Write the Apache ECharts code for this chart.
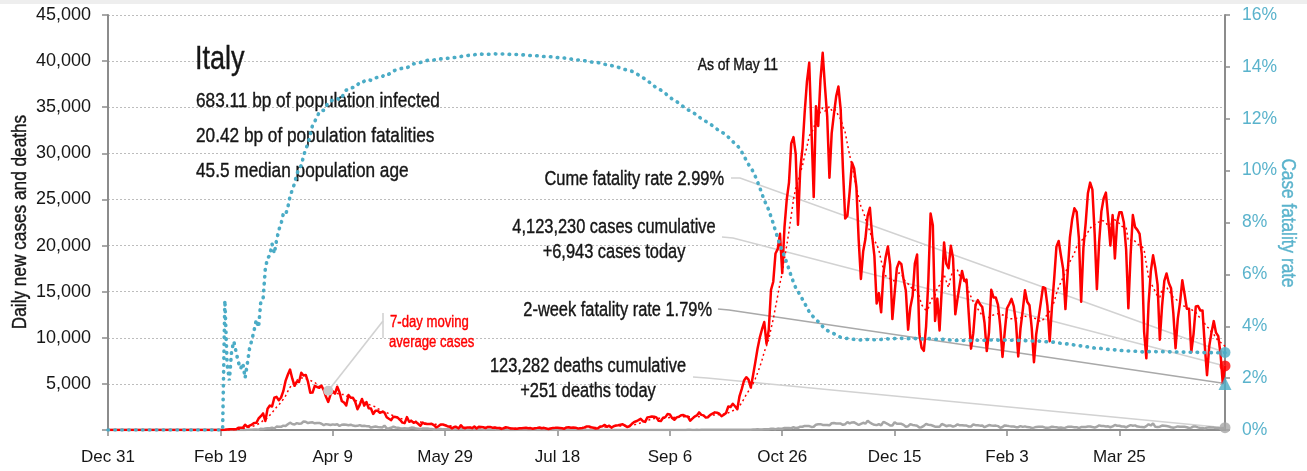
<!DOCTYPE html>
<html>
<head>
<meta charset="utf-8">
<title>Italy — daily new cases, deaths and case fatality rate</title>
<script src="https://cdn.jsdelivr.net/npm/echarts@6/dist/echarts.min.js"></script>
<style>
  html, body { margin: 0; padding: 0; background: #fff; }
  #chart { width: 1307px; height: 471px; }
</style>
</head>
<body>
<div id="chart"></div>
<script>
// ---- Daily new cases, one array per month (first day: Dec 31, 2019) ----
const casesDec2019 = [0];
const casesJan2020 = [0,0,0,0,0,0,0,0,0,0,0,0,0,0,0,0,0,0,0,0,0,0,0,0,0,0,0,0,0,0,2];
const casesFeb2020 = [0,0,0,0,0,1,0,0,0,0,0,0,0,0,0,0,0,0,0,0,17,59,78,72,93,78,250,238,240];
const casesMar2020 = [566,342,466,587,769,778,1247,1492,1797,977,2313,2651,2547,3497,3590,3233,3526,4207,5322,5986,6557,5560,4789,5249,5210,6203,5909,5974,5217,4050,4053];
const casesApr2020 = [4782,4668,4585,4805,4316,3599,3039,3836,4204,3951,4694,4092,3153,2972,2667,3786,3493,3491,3047,2256,2729,3370,2646,3021,2357,2324,1739,2091,2086,1872];
const casesMay2020 = [1965,1900,1389,1221,1075,1444,1401,1327,1083,802,744,1402,888,992,789,875,675,451,813,665,642,652,669,531,300,397,584,593,516,416,355];
const casesJun2020 = [178,318,321,177,518,270,197,280,283,202,379,163,346,338,301,210,329,333,251,262,224,218,122,190,296,259,175,174,126,142];
const casesJul2020 = [187,201,223,235,192,208,138,193,229,276,188,234,169,114,162,230,233,249,219,190,129,282,306,252,275,255,170,181,212,289,386];
const casesAug2020 = [379,295,239,159,190,384,402,552,347,463,259,412,481,523,574,629,479,320,403,642,845,947,1071,1210,953,878,1367,1411,1462,1444,1365];
const casesSep2020 = [996,978,1326,1397,1733,1695,1297,1108,1370,1434,1597,1616,1501,1458,1008,1229,1452,1585,1907,1638,1587,1350,1392,1640,1786,1912,1869,1766,1494,1648];
const casesOct2020 = [1851,2548,2499,2844,2578,2257,3678,4458,5372,5724,5456,4619,5901,7332,8804,10010,10925,11705,9338,10874,15199,16079,19143,19644,21273,17012,21994,24991,26831,31084,31758];
const casesNov2020 = [29907,22253,28244,30550,34505,37809,39811,32616,25271,35098,32961,37978,40902,37255,33979,27354,32191,34283,36176,37242,34767,28337,22930,23232,25853,29003,28352,26323,20648,16377];
const casesDec2020 = [19350,20709,23225,24099,21052,18887,13720,14842,12756,16999,18727,19903,17938,12030,14844,17572,18236,17992,16308,15104,10872,13318,14522,18040,19037,10407,8913,8585,11212,16202,23477];
const casesJan2021 = [22211,11831,14245,10800,15378,20331,18020,17533,19978,18627,12545,14242,15774,17246,16146,16310,12545,8824,10497,13571,14078,13633,13331,11629,8561,10593,15204,14372,14372,13574,11252];
const casesFeb2021 = [7925,10630,13189,13659,14218,13442,11641,7970,10994,12956,15146,13908,13532,11068,7351,10386,12074,13762,15479,15370,13452,9630,13314,16424,19886,20499,18916,17455];
const casesMar2021 = [13114,17083,20884,22865,24036,23641,20765,13902,19749,22409,25673,26824,26062,21315,15267,20396,23704,25100,25735,23000,20000,23300,18600,22500,23600,23600,22500,19600,13200,19000,23300];
const casesApr2021 = [22000,21700,21261,19000,10680,7767,13708,17221,18938,17567,15746,9789,13447,16168,16974,15943,15370,12694,8864,12074,13844,16232,14761,13158,13158,8444,10404,13385,13445,12965];
const casesMay2021 = [12965,9148,5948,9116,10585,11807,10554,10176,8292,5080,6943];

// ---- Daily deaths, one array per month ----
const deathsDec2019 = [0];
const deathsJan2020 = [0,0,0,0,0,0,0,0,0,0,0,0,0,0,0,0,0,0,0,0,0,0,0,0,0,0,0,0,0,0,0];
const deathsFeb2020 = [0,0,0,0,0,0,0,0,0,0,0,0,0,0,0,0,0,0,0,0,1,1,1,4,4,1,5,4,8];
const deathsMar2020 = [5,18,27,28,41,49,36,133,97,168,196,189,250,175,368,349,345,475,427,627,793,651,601,743,683,712,919,889,756,812,837];
const deathsApr2020 = [727,760,766,681,525,636,604,542,610,570,619,431,566,602,578,525,575,482,433,454,534,437,464,420,415,260,333,382,323,285];
const deathsMay2020 = [269,474,174,195,236,369,274,243,194,165,179,172,195,262,242,153,145,99,162,161,156,130,119,50,92,78,117,70,87,111,75];
const deathsJun2020 = [60,55,71,88,85,72,53,65,79,71,53,56,78,44,26,34,43,66,47,49,24,23,18,30,34,30,8,24,6,23];
const deathsJul2020 = [21,15,15,21,7,8,30,15,12,12,7,9,13,17,13,11,13,3,9,13,15,9,10,5,5,3,5,11,11,3,9];
const deathsAug2020 = [12,8,5,10,6,10,8,11,13,4,6,12,6,13,10,4,7,4,5,16,10,9,4,7,4,5,13,9,5,1,6];
const deathsSep2020 = [6,10,6,10,7,7,10,10,10,10,10,13,7,14,14,9,10,24,10,14,17,20,15,20,23,17,17,16,24,24];
const deathsOct2020 = [23,24,27,16,18,28,31,22,28,29,26,39,41,43,83,55,47,69,73,89,127,136,91,151,128,141,221,205,217,199,297];
const deathsNov2020 = [208,233,353,352,445,446,425,331,356,580,623,636,550,544,546,504,731,753,699,699,692,562,630,853,722,822,827,686,541,672];
const deathsDec2020 = [785,684,993,814,662,564,528,634,499,887,761,649,484,491,846,680,683,674,553,352,415,628,553,505,459,261,305,445,659,575,555];
const deathsJan2021 = [462,364,347,348,649,548,414,483,483,361,448,616,507,522,477,475,377,377,603,524,521,472,488,299,420,541,492,467,477,421,237];
const deathsFeb2021 = [329,499,456,421,391,385,307,307,422,336,391,316,311,221,258,336,347,353,347,253,232,274,356,318,308,253,280,227];
const deathsMar2021 = [255,343,347,339,297,307,207,318,332,332,373,380,317,264,354,502,431,423,386,401,300,386,551,460,460,380,380,297,417,529,467];
const deathsApr2021 = [501,376,344,326,296,421,627,487,718,344,331,360,476,469,429,380,293,251,316,390,364,360,342,301,217,256,390,373,288,226];
const deathsMay2021 = [226,144,256,305,263,258,207,224,139,198,251];

// ---- Figures quoted in the annotations ----
const countryName = 'Italy';
const profileLines = ['683.11 bp of population infected', '20.42 bp of population fatalities', '45.5 median population age'];
const asOfLabel = 'As of May 11';
const cumeFatalityRate = 2.99;      // %
const twoWeekFatalityRate = 1.79;   // %
const casesToday = 6943;
const deathsToday = 251;
const casesCumulativeLabel = ['4,123,230 cases cumulative', '+6,943 cases today'];
const deathsCumulativeLabel = ['123,282 deaths cumulative', '+251 deaths today'];
const cumeRateLabel = 'Cume fatality rate 2.99%';
const twoWeekRateLabel = '2-week fatality rate 1.79%';
const movingAverageLabel = ['7-day moving', 'average cases'];
const movingAverageCallout = 98;    // day index the moving-average callout points at
const leftAxisTitle = 'Daily new cases and deaths';
const rightAxisTitle = 'Case fatality rate';

// ---- Axis ticks ----
const xTickStep = 50;               // days between date labels
const leftTicks = { min: 0, max: 45000, interval: 5000 };
const rightTicks = { min: 0, max: 16, interval: 2 };
const MONTHS = ['Jan','Feb','Mar','Apr','May','Jun','Jul','Aug','Sep','Oct','Nov','Dec'];

// ---- Derived series ----
const dailyCases = [].concat(casesDec2019, casesJan2020, casesFeb2020, casesMar2020, casesApr2020, casesMay2020,
  casesJun2020, casesJul2020, casesAug2020, casesSep2020, casesOct2020, casesNov2020, casesDec2020,
  casesJan2021, casesFeb2021, casesMar2021, casesApr2021, casesMay2021);
const dailyDeaths = [].concat(deathsDec2019, deathsJan2020, deathsFeb2020, deathsMar2020, deathsApr2020, deathsMay2020,
  deathsJun2020, deathsJul2020, deathsAug2020, deathsSep2020, deathsOct2020, deathsNov2020, deathsDec2020,
  deathsJan2021, deathsFeb2021, deathsMar2021, deathsApr2021, deathsMay2021);
const lastDay = dailyCases.length - 1;

function dayLabel(i) {
  const d = new Date(2019, 11, 31 + i);
  return MONTHS[d.getMonth()] + ' ' + d.getDate();
}

// trailing 7-day average of new cases
const movingAvg = dailyCases.map((_, i) => {
  const from = Math.max(0, i - 6);
  let s = 0;
  for (let k = from; k <= i; k++) s += dailyCases[k];
  return s / (i - from + 1);
});

// cumulative case fatality rate, %
let cumC = 0, cumD = 0;
const cfr = dailyCases.map((c, i) => {
  cumC += c; cumD += dailyDeaths[i];
  return cumC > 0 ? cumD / cumC * 100 : 0;
});

const pairs = arr => arr.map((v, i) => [i, v]);

// ---- Styling ----
const SANS = '"Liberation Sans", Arial, sans-serif';
const NARROW = 0.82;                // horizontal squeeze giving a condensed face
const RED = '#ff0000';
const BLUE = '#4bacc6';
const BLUE_TEXT = '#5ab3cc';
const DEATH_GRAY = '#a6a6a6';
const AXIS_GRAY = '#8c8c8c';
const LEADER_LIGHT = '#d2d2d2';
const LEADER_DARK = '#a9a9a9';
const INK = '#161616';

const chart = echarts.init(document.getElementById('chart'), null, { renderer: 'canvas' });

chart.setOption({
  animation: false,
  backgroundColor: '#fff',
  textStyle: { fontFamily: SANS },
  grid: { left: 108, right: 82, top: 15, bottom: 41, containLabel: false, outerBoundsMode: 'none' },
  xAxis: {
    type: 'value', min: 0, max: lastDay, interval: xTickStep,
    axisLine: { show: true, lineStyle: { color: AXIS_GRAY, width: 2 } },
    axisTick: { show: true, length: 6, lineStyle: { color: AXIS_GRAY, width: 1.5 } },
    axisLabel: {
      color: INK, fontSize: 17, fontFamily: SANS, margin: 19, showMaxLabel: false,
      formatter: v => (v % xTickStep === 0 ? dayLabel(v) : '')
    },
    splitLine: { show: false }
  },
  yAxis: [
    {
      type: 'value', position: 'left', ...leftTicks,
      axisLine: { show: true, lineStyle: { color: AXIS_GRAY, width: 2 } },
      axisTick: { show: true, length: 6, lineStyle: { color: AXIS_GRAY, width: 1.5 } },
      axisLabel: {
        color: INK, fontSize: 18, fontFamily: SANS, margin: 17,
        formatter: v => (v === 0 ? '' : v.toLocaleString('en-US'))
      },
      splitLine: { show: true, lineStyle: { color: '#bdbdbd', width: 1, type: [2, 2] } }
    },
    {
      type: 'value', position: 'right', ...rightTicks,
      axisLine: { show: true, lineStyle: { color: AXIS_GRAY, width: 2 } },
      axisTick: { show: true, length: 5, lineStyle: { color: AXIS_GRAY, width: 1.5 } },
      axisLabel: { color: BLUE_TEXT, fontSize: 17.5, fontFamily: SANS, margin: 17, formatter: '{value}%' },
      splitLine: { show: false }
    }
  ],
  series: [
    {
      name: 'Daily deaths', type: 'line', data: pairs(dailyDeaths), yAxisIndex: 0,
      showSymbol: false, z: 2, silent: true,
      lineStyle: { color: DEATH_GRAY, width: 2.5 }
    },
    {
      name: 'Daily new cases', type: 'line', data: pairs(dailyCases), yAxisIndex: 0,
      showSymbol: false, z: 3, silent: true,
      lineStyle: { color: RED, width: 2.5, join: 'round' }
    },
    {
      name: '7-day moving average cases', type: 'line', data: pairs(movingAvg), yAxisIndex: 0,
      showSymbol: false, z: 4, silent: true,
      lineStyle: { color: RED, width: 1.5, type: [2, 3] }
    },
    {
      name: 'Case fatality rate', type: 'line', data: pairs(cfr), yAxisIndex: 1,
      showSymbol: false, z: 5, silent: true,
      lineStyle: { color: BLUE, width: 3.6, type: [0.5, 6.4], cap: 'round' }
    },
    {
      name: 'Latest (left axis)', type: 'scatter', yAxisIndex: 0, z: 7, silent: true,
      data: [
        { value: [lastDay, casesToday], symbol: 'circle', symbolSize: 11, itemStyle: { color: RED } },
        { value: [lastDay, deathsToday], symbol: 'circle', symbolSize: 11, itemStyle: { color: DEATH_GRAY } }
      ]
    },
    {
      name: 'Latest (right axis)', type: 'scatter', yAxisIndex: 1, z: 7, silent: true,
      data: [
        { value: [lastDay, cumeFatalityRate], symbol: 'circle', symbolSize: 11, itemStyle: { color: BLUE } },
        { value: [lastDay, twoWeekFatalityRate], symbol: 'triangle', symbolSize: 13, itemStyle: { color: BLUE } }
      ]
    }
  ]
});

// ---- Annotations: text blocks and leader lines to the latest values ----
const toPx = (axis, day, v) => chart.convertToPixel({ xAxisIndex: 0, yAxisIndex: axis }, [day, v]);
// condensed text: the element sits at (x, y) and is squeezed horizontally around that point;
// a hairline stroke in the text colour gives the face a little more weight
const text = (x, y, t, size, opts, extra) => {
  const style = Object.assign({ text: t, fontSize: size, fontFamily: SANS, fill: INK, align: 'left', verticalAlign: 'middle' }, opts || {});
  style.stroke = style.fill;
  style.lineWidth = 0.4;
  return Object.assign({ type: 'text', x, y, z: 1, silent: true, scaleX: NARROW, style }, extra || {});
};
const leader = (pts, color) => ({
  type: 'polyline', z: 1, silent: true,
  shape: { points: pts },
  style: { stroke: color, lineWidth: 1.6, fill: null }
});

const pCume = toPx(1, lastDay, cumeFatalityRate);
const pCases = toPx(0, lastDay, casesToday);
const pTwoWeek = toPx(1, lastDay, twoWeekFatalityRate);
const pDeaths = toPx(0, lastDay, deathsToday);
const pMA = toPx(0, movingAverageCallout, movingAvg[movingAverageCallout]);

chart.setOption({
  graphic: [
    { type: 'rect', z: 0, silent: true, shape: { x: 0, y: 0, width: 1307, height: 4 }, style: { fill: '#eeeeee' } },

    // axis titles
    text(20, 222, leftAxisTitle, 21, { align: 'center' }, { rotation: Math.PI / 2 }),
    text(1288, 223, rightAxisTitle, 21, { align: 'center', fill: BLUE_TEXT }, { rotation: -Math.PI / 2 }),

    text(195, 60, countryName, 33),
    text(196, 101, profileLines[0], 21),
    text(196, 136, profileLines[1], 21),
    text(196, 171, profileLines[2], 21),
    text(778, 65, asOfLabel, 17, { align: 'right' }),

    text(724, 179, cumeRateLabel, 20, { align: 'right' }),
    leader([[731, 178], [740, 178], pCume], LEADER_LIGHT),

    text(614, 227.5, casesCumulativeLabel[0], 20, { align: 'center' }),
    text(614, 252.5, casesCumulativeLabel[1], 20, { align: 'center' }),
    leader([[722, 237], [733, 238], pCases], LEADER_LIGHT),

    text(712, 310.5, twoWeekRateLabel, 20, { align: 'right' }),
    leader([[718, 309], [729, 310], pTwoWeek], LEADER_DARK),

    text(588, 366.5, deathsCumulativeLabel[0], 20, { align: 'center' }),
    text(588, 391, deathsCumulativeLabel[1], 20, { align: 'center' }),
    leader([[693, 377], [707, 378], pDeaths], LEADER_LIGHT),

    text(390, 323, movingAverageLabel[0], 16, { fill: RED }),
    text(389, 342.5, movingAverageLabel[1], 16, { fill: RED }),
    leader([[383, 313], [383, 338]], LEADER_LIGHT),
    leader([[383, 321], pMA], LEADER_LIGHT),
    { type: 'circle', z: 6, silent: true, shape: { cx: pMA[0], cy: pMA[1], r: 5 }, style: { fill: '#c8c8c8' } }
  ]
});
</script>
</body>
</html>
